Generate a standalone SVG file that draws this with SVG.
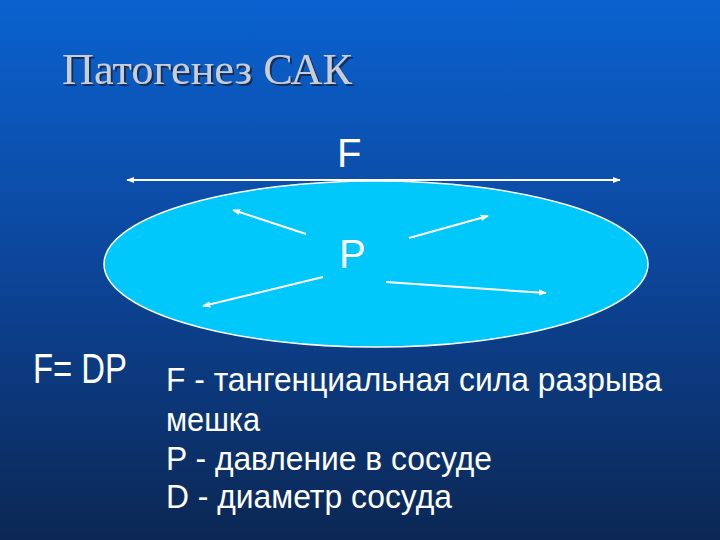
<svg xmlns="http://www.w3.org/2000/svg" width="720" height="540" viewBox="0 0 720 540">
<defs>
<linearGradient id="bg" x1="0" y1="0" x2="0" y2="1">
<stop offset="0" stop-color="#0a62d0"/>
<stop offset="0.5" stop-color="#0c4599"/>
<stop offset="1" stop-color="#0b2753"/>
</linearGradient>
<filter id="sh" x="-5%" y="-20%" width="115%" height="150%">
<feDropShadow dx="2" dy="2" stdDeviation="0.6" flood-color="#15254a" flood-opacity="0.9"/>
</filter>
<marker id="ah" viewBox="0 0 10 10" refX="9" refY="5" markerWidth="4" markerHeight="4" orient="auto-start-reverse">
<path d="M0,1 L10,5 L0,9 Z" fill="#ffffff"/>
</marker>
<style>
.lbl{font-family:"Liberation Sans",Arial,sans-serif;fill:#ffffff}
.arr{stroke:#ffffff;stroke-width:2;fill:none}
.title{font-family:"Liberation Serif","Times New Roman",serif;font-size:44px;fill:#c9cdd6}
</style>
</defs>
<rect x="0" y="0" width="720" height="540" fill="url(#bg)"/>
<g id="title">
<text class="title" x="62" y="84" textLength="290" lengthAdjust="spacingAndGlyphs" filter="url(#sh)">Патогенез САК</text>
</g>
<g id="vessel">
<ellipse cx="376" cy="264" rx="272" ry="83" fill="#00c8fa" stroke="#ffffff" stroke-width="1.5"/>
</g>
<g id="labelF"><text class="lbl" x="337" y="167" font-size="40">F</text></g>
<g id="labelP"><text class="lbl" x="339" y="268" font-size="40">P</text></g>
<g id="connectors">
<line class="arr" x1="127" y1="180" x2="620" y2="180" marker-start="url(#ah)" marker-end="url(#ah)"/>
<line class="arr" x1="306" y1="234" x2="233" y2="210" marker-end="url(#ah)"/>
<line class="arr" x1="409" y1="238" x2="488" y2="216" marker-end="url(#ah)"/>
<line class="arr" x1="323" y1="277" x2="203" y2="306" marker-end="url(#ah)"/>
<line class="arr" x1="386" y1="282" x2="546" y2="293" marker-end="url(#ah)"/>
</g>
<g id="formula">
<text class="lbl" x="33" y="383" font-size="43" textLength="94" lengthAdjust="spacingAndGlyphs">F= DP</text>
</g>
<g id="legend">
<text class="lbl" x="166" y="391" font-size="34" textLength="496" lengthAdjust="spacingAndGlyphs">F - тангенциальная сила разрыва</text>
<text class="lbl" x="166" y="431" font-size="34" textLength="94" lengthAdjust="spacingAndGlyphs">мешка</text>
<text class="lbl" x="166" y="470" font-size="34" textLength="326" lengthAdjust="spacingAndGlyphs">P - давление в сосуде</text>
<text class="lbl" x="166" y="508" font-size="34" textLength="286" lengthAdjust="spacingAndGlyphs">D - диаметр сосуда</text>
</g>
</svg>
